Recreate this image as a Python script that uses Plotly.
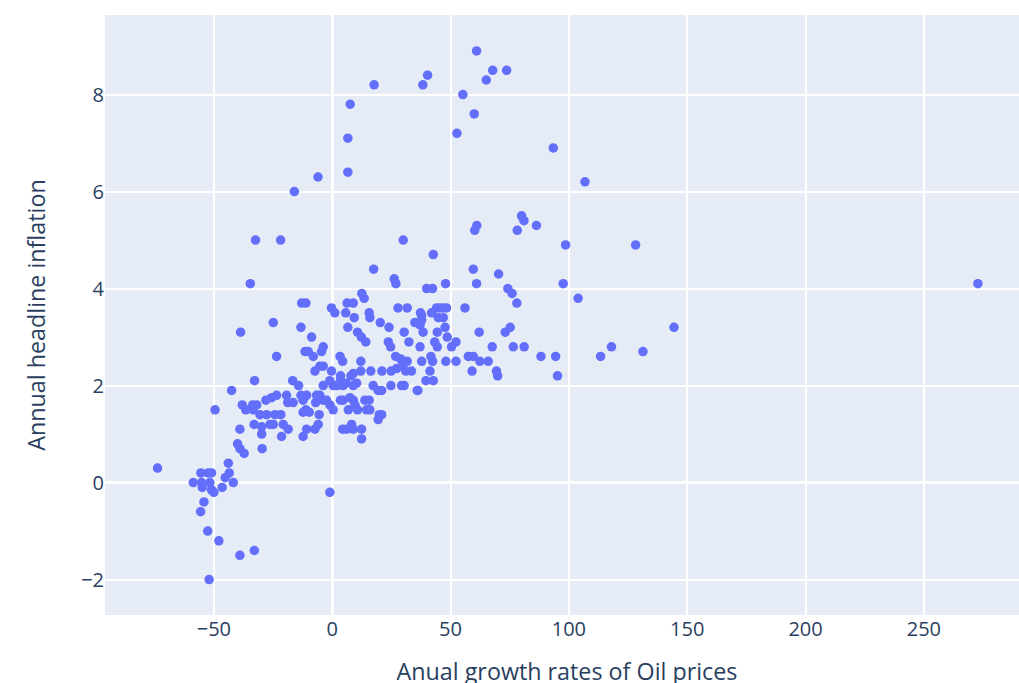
import plotly.graph_objects as go

oil_growth = [
    61.0, 67.8, 73.7, 65.1, 55.2, 60.0, 52.7, 93.4, 106.8, 40.3, 38.3, 17.7, 7.6, 6.6, 6.6, -6.0, -16.0,
    -32.4, -21.8, 30.0, 61.1, 60.2, 42.7, 17.5, 59.6, 26.2, 80.0, 81.0, 78.2, 86.3, 98.6, 128.2, 97.6,
    103.9, 144.4, 88.2, 94.4, 95.2, 113.4, 118.0, 131.3, 272.8,
    70.3, 61.0, 47.9, 39.9, 42.4, 74.2, 76.0, 78.0, 56.1, 44.1, 45.5, 46.9, 48.3, 42.0, 37.8, 44.8, 46.9,
    37.8, 37.1, 47.7, 62.1, 73.1, 75.2, 44.4, 38.4, 48.6, 52.3, 50.4, 43.3, 44.4, 37.1, 67.6, 76.5, 81.1,
    57.5, 59.6, 62.4, 65.9, 52.3, 48.0, 41.7, 42.4, 37.8, 59.1, 69.4, 69.9, 41.3, 39.6, 42.7, 36.2,
    26.9, 12.5, 13.5, 6.3, 8.9, 27.8, 31.7, -0.3, 1.1, 5.7, 9.3, 15.6, 15.9, 37.3, 20.3, 24.0, 34.9, 6.6,
    10.7, 12.3, 14.2, 30.4, 32.4, 23.7, 24.7, -3.8, -4.5, 3.3, 4.4, 12.1, 26.8, 29.7, 31.7, 28.9, -3.8,
    -5.2, -0.3, 3.5, 7.9, 8.9, 12.1, 16.3, 21.0, 24.9, 27.2, 29.7, 31.1, 33.5, 3.5, 0.4, -3.8, 4.6, 5.8,
    8.9, 10.3, 17.3, 19.4, 24.8, 30.4, 35.9, -5.2, -3.8, -1.0, 0.4, 3.5, 4.6, 7.5, 8.9, 9.6, 10.7, 13.8,
    15.6, 14.5, 15.9, 19.9, 19.4, 6.8, 4.4, 6.1, 8.2, 8.9, 12.4, 12.4, -1.0, 20.9, 29.3, 20.9, -1.0, 2.1,
    -34.6, -12.9, -11.1, -24.9, -38.7, -13.2, -8.7, -11.5, -10.1, -8.0, -23.5, -7.3, -32.8, -42.5, -16.7,
    -14.2, -23.5, -25.6, -28.0, -19.3, -18.8, -16.5, -13.2, -12.3, -10.8, -6.6, -7.0, -2.4, -38.0, -36.5,
    -33.6, -31.9, -33.4, -30.5, -27.7, -24.2, -21.7, -11.1, -9.7, -5.5, -33.0, -29.8, -26.3, -24.9, -20.7,
    -18.6, -10.8, -7.3, -5.9, -39.0, -29.8, -21.4, -12.3, -49.5, -12.3,
    -73.8, -58.7, -55.5, -52.4, -51.0, -55.2, -51.7, -54.9, -50.0, -51.0, -46.5, -43.9, -43.5, -45.2,
    -41.8, -54.2, -55.6, -52.6, -47.9, -39.0, -32.9, -52.0, -40.0, -39.0, -37.2, -29.6,
]

headline_inflation = [
    8.9, 8.5, 8.5, 8.3, 8.0, 7.6, 7.2, 6.9, 6.2, 8.4, 8.2, 8.2, 7.8, 7.1, 6.4, 6.3, 6.0,
    5.0, 5.0, 5.0, 5.3, 5.2, 4.7, 4.4, 4.4, 4.2, 5.5, 5.4, 5.2, 5.3, 4.9, 4.9, 4.1,
    3.8, 3.2, 2.6, 2.6, 2.2, 2.6, 2.8, 2.7, 4.1,
    4.3, 4.1, 4.1, 4.0, 4.0, 4.0, 3.9, 3.7, 3.6, 3.6, 3.6, 3.6, 3.6, 3.5, 3.45, 3.4, 3.4,
    3.35, 3.25, 3.2, 3.1, 3.1, 3.2, 3.1, 3.1, 3.0, 2.9, 2.8, 2.9, 2.8, 2.8, 2.8, 2.8, 2.8,
    2.6, 2.6, 2.5, 2.5, 2.5, 2.5, 2.6, 2.5, 2.5, 2.3, 2.3, 2.2, 2.3, 2.1, 2.1, 1.9,
    4.1, 3.9, 3.8, 3.7, 3.7, 3.6, 3.6, 3.6, 3.5, 3.5, 3.4, 3.5, 3.4, 3.5, 3.3, 3.2, 3.3, 3.2,
    3.1, 3.0, 2.9, 3.1, 2.9, 2.9, 2.8, 2.8, 2.7, 2.6, 2.5, 2.5, 2.6, 2.5, 2.5, 2.55, 2.4,
    2.4, 2.3, 2.2, 2.2, 2.25, 2.3, 2.3, 2.3, 2.3, 2.35, 2.4, 2.3, 2.3, 2.1, 2.0, 2.0, 2.0, 2.05,
    2.0, 2.05, 2.0, 1.9, 2.0, 2.0, 1.9, 1.8, 1.7, 1.6, 1.5, 1.7, 1.7, 1.75, 1.7, 1.6, 1.5, 1.7,
    1.7, 1.5, 1.5, 1.4, 1.3, 1.5, 1.1, 1.1, 1.2, 1.1, 1.1, 0.9, -0.2, 1.9, 2.0, 1.4, 2.1, 2.0,
    4.1, 3.7, 3.7, 3.3, 3.1, 3.2, 3.0, 2.7, 2.7, 2.6, 2.6, 2.3, 2.1, 1.9, 2.1,
    2.0, 1.8, 1.75, 1.7, 1.8, 1.65, 1.65, 1.8, 1.7, 1.8, 1.8, 1.65, 1.7, 1.6, 1.5,
    1.6, 1.6, 1.5, 1.4, 1.4, 1.4, 1.4, 1.5, 1.45, 1.4, 1.2, 1.15, 1.2, 1.2, 1.2,
    1.1, 1.1, 1.1, 1.2, 1.1, 1.0, 0.95, 0.95, 1.5, 1.45,
    0.3, 0.0, 0.2, 0.2, 0.2, 0.0, 0.0, -0.1, -0.2, -0.15, -0.1, 0.4, 0.2, 0.1,
    0.0, -0.4, -0.6, -1.0, -1.2, -1.5, -1.4, -2.0, 0.8, 0.7, 0.6, 0.7,
]

x_title = "Anual growth rates of Oil prices"
y_title = "Annual headline inflation"

fig = go.Figure(
    go.Scatter(
        x=oil_growth,
        y=headline_inflation,
        mode="markers",
        marker=dict(color="#636efa", size=9.5),
    )
)

axis_common = dict(
    showgrid=True,
    gridcolor="white",
    gridwidth=1.7,
    zeroline=True,
    zerolinecolor="white",
    zerolinewidth=3.3,
    automargin=False,
    tickfont=dict(size=20, color="#2a3f5f"),
    ticks="",
    showline=False,
)

fig.update_layout(
    width=1029,
    height=687,
    margin=dict(l=105, r=0, t=15, b=72),
    plot_bgcolor="#E5ECF6",
    paper_bgcolor="white",
    font=dict(family="Open Sans, verdana, arial, sans-serif", color="#2a3f5f"),
    showlegend=False,
    xaxis=dict(
        axis_common,
        range=[-96.0, 294.4],
        dtick=50,
        tick0=0,
        title=dict(text=x_title, font=dict(size=23.3), standoff=28),
    ),
    yaxis=dict(
        axis_common,
        range=[-2.73, 9.64],
        dtick=2,
        tick0=0,
        title=dict(text=y_title, font=dict(size=23.3), standoff=28),
    ),
)

fig.write_html(
    "out.html",
    config={"displayModeBar": False},
    post_script="document.body.style.margin='0';document.body.style.overflow='hidden';",
)
